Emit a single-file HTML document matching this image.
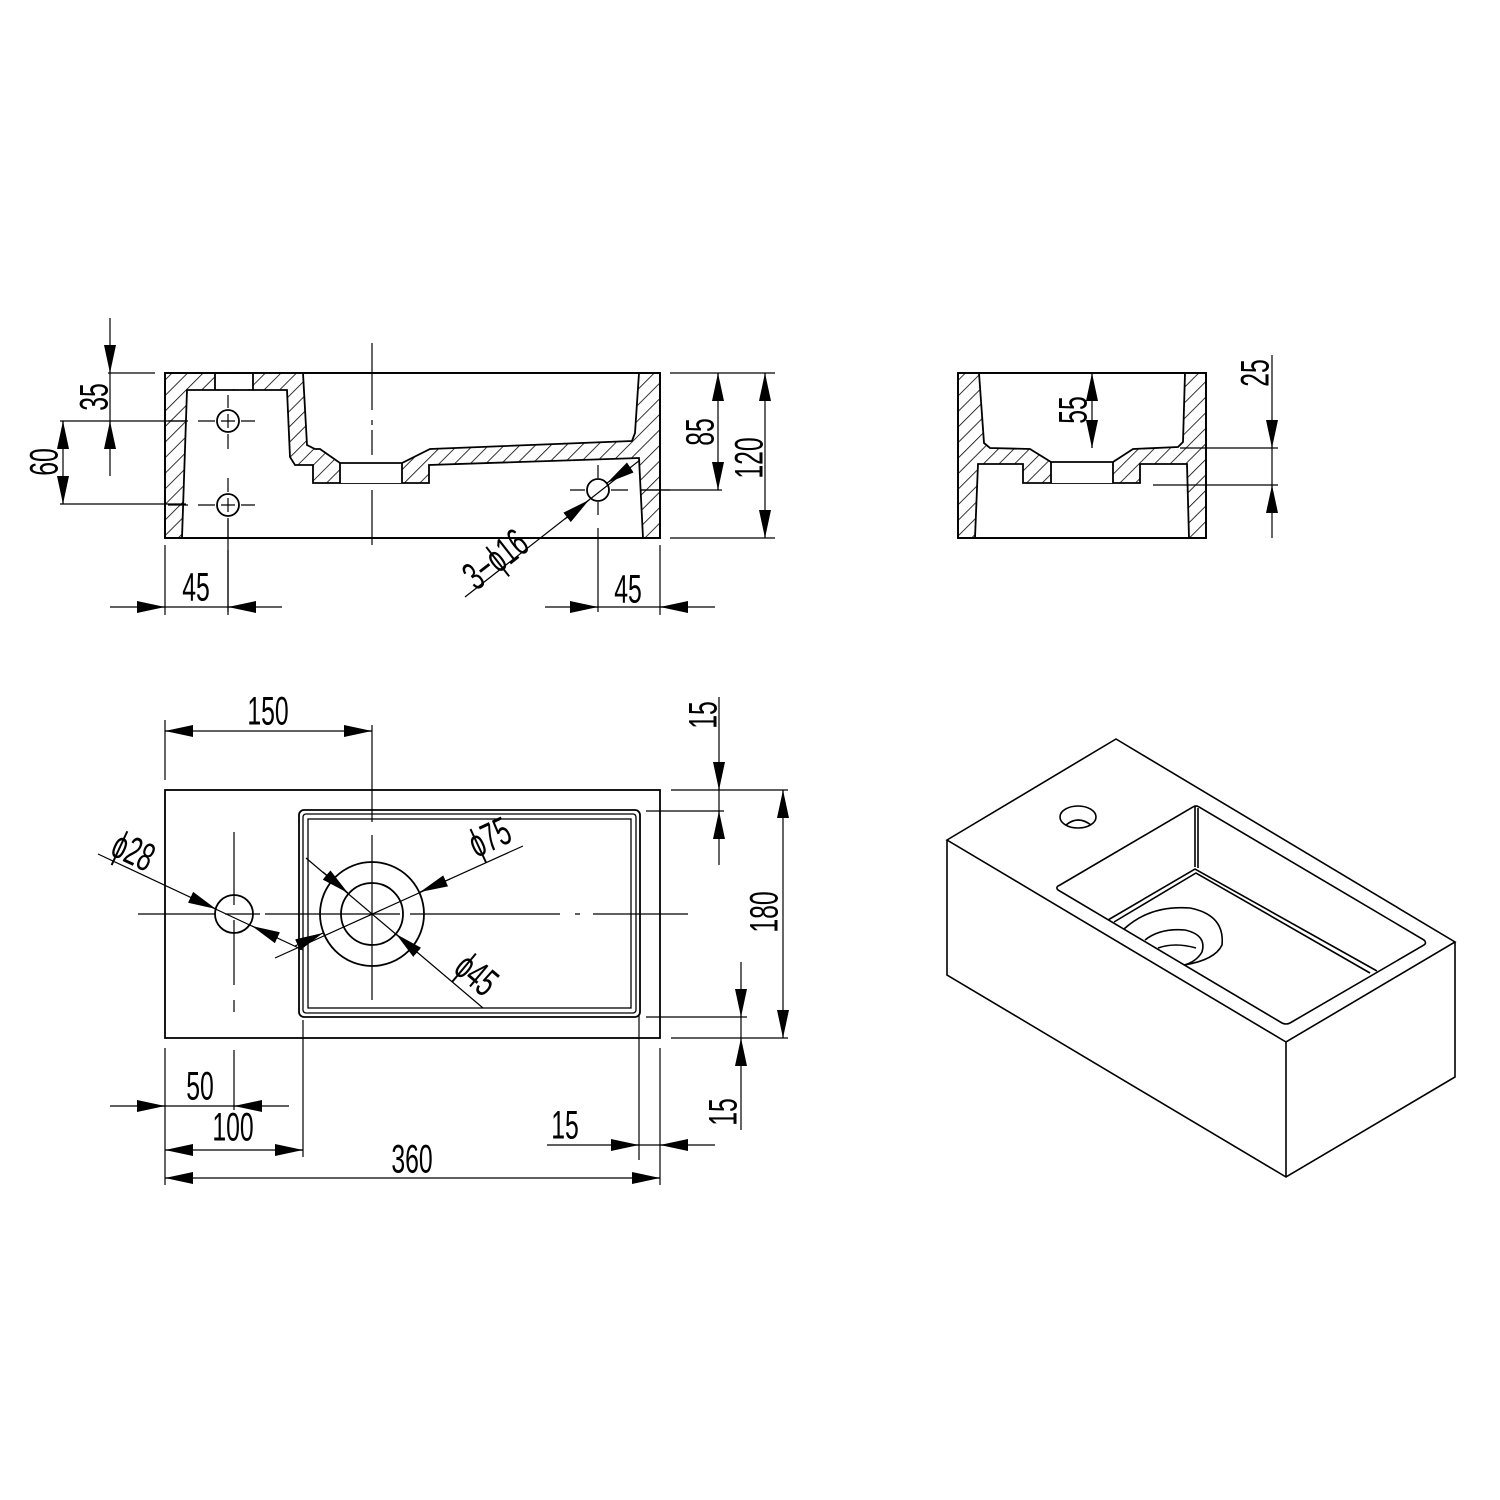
<!DOCTYPE html>
<html><head><meta charset="utf-8"><style>
html,body{margin:0;padding:0;background:#fff}
svg{display:block}
.t{font-family:"Liberation Sans",sans-serif;font-size:40px;fill:#000}
</style></head><body>
<svg width="1500" height="1500" viewBox="0 0 1500 1500" xmlns="http://www.w3.org/2000/svg">
<defs>
<pattern id="h" patternUnits="userSpaceOnUse" width="11" height="11" patternTransform="rotate(45)">
<rect width="11" height="11" fill="#fff"/><line x1="0" y1="0" x2="0" y2="11" stroke="#000" stroke-width="1.6"/>
</pattern>
<marker id="a" markerUnits="userSpaceOnUse" markerWidth="28" markerHeight="12" refX="28" refY="6" orient="auto"><path d="M0,0 L28,6 L0,12 Z" fill="#000"/></marker>
</defs>
<g fill="none" stroke="#000" stroke-width="1.8">
<!-- FRONT SECTION -->
<rect x="165" y="373" width="495" height="165" fill="url(#h)"/>
<polygon fill="#fff" points="303,373 307,445 315,449 320,449 340,463 402,463 430,449 632,441 635,433 639,373"/>
<polygon fill="#fff" points="187,390 287,390 290,457 295,465 313,465 313,483 429,483 429,465 639,458 643,538 182,538"/>
<rect x="340" y="460" width="62" height="23" fill="#fff" stroke="none"/>
<line x1="340" y1="463" x2="340" y2="483"/><line x1="402" y1="463" x2="402" y2="483"/><line x1="340" y1="463" x2="402" y2="463"/>
<rect x="215" y="374" width="38" height="15" fill="#fff" stroke="none"/>
<line x1="215" y1="373" x2="215" y2="390"/><line x1="253" y1="373" x2="253" y2="390"/>
<rect x="165" y="373" width="495" height="165"/>
<circle cx="228" cy="421" r="11"/><circle cx="228" cy="505" r="11"/><circle cx="598" cy="490" r="11"/>
</g>
<g stroke="#000" stroke-width="1.2" fill="none">
<path d="M372,343V410M372,420V425M372,430V455M372,490V545" />
<path d="M168,421H188M198,421H215M221,421H235M241,421H255M228,395V408M228,414V428M228,434V449"/>
<path d="M168,505H188M198,505H215M221,505H235M241,505H255M228,478V492M228,498V512M228,518V538M228,550V612"/>
<path d="M570,490H585M611,490H628M640,490H670M598,465V478M598,502V515M598,528V612"/>
<path d="M110,318V476M108,373H155M60,421H186M60,504H186M63,421V504"/>
<path d="M110,345V373" marker-end="url(#a)"/>
<path d="M110,449V421" marker-end="url(#a)"/>
<path d="M63,449V421" marker-end="url(#a)"/>
<path d="M63,476V504" marker-end="url(#a)"/>
<path d="M110,607H282M165,545V615M228,520V615"/>
<path d="M137,607H165" marker-end="url(#a)"/>
<path d="M256,607H228" marker-end="url(#a)"/>
<path d="M545,607H715M660,545V615"/>
<path d="M570,607H598" marker-end="url(#a)"/>
<path d="M688,607H660" marker-end="url(#a)"/>
<path d="M465,597L640,460"/>
<path d="M565,519L589,500" marker-end="url(#a)"/>
<path d="M631,467L607,483" marker-end="url(#a)"/>
<path d="M670,373H775M640,490H722M670,538H775M718,373V490M765,373V538"/>
<path d="M718,401V373" marker-end="url(#a)"/>
<path d="M718,462V490" marker-end="url(#a)"/>
<path d="M765,401V373" marker-end="url(#a)"/>
<path d="M765,510V538" marker-end="url(#a)"/>
</g>
<!-- SIDE SECTION -->
<g fill="none" stroke="#000" stroke-width="1.8">
<rect x="958" y="373" width="248" height="165" fill="url(#h)"/>
<polygon fill="#fff" points="979,373 984,443 990,448 1030,449 1051,462 1113,462 1133,449 1178,447 1183,442 1185,373"/>
<polygon fill="#fff" points="978,464 1023,464 1023,483 1140,483 1140,464 1187,464 1189,538 975,538"/>
<rect x="1051" y="458" width="62" height="25" fill="#fff" stroke="none"/>
<path d="M1051,462V483M1113,462V483M1051,462H1113"/>
<rect x="958" y="373" width="248" height="165"/>
</g>
<g stroke="#000" stroke-width="1.2" fill="none">
<path d="M1180,448H1278M1153,485H1278M1272,355V538M1092,373V448"/>
<path d="M1272,420V448" marker-end="url(#a)"/>
<path d="M1272,513V485" marker-end="url(#a)"/>
<path d="M1092,401V373" marker-end="url(#a)"/>
<path d="M1092,420V448" marker-end="url(#a)"/>
</g>
<!-- PLAN -->
<g fill="none" stroke="#000" stroke-width="1.8">
<rect x="165" y="790" width="495" height="248"/>
<rect x="299" y="810" width="341" height="207" rx="5"/>
<rect x="303" y="814" width="333" height="199" rx="3" stroke-width="1.3"/>
<rect x="308" y="819" width="323" height="189" stroke-width="1.3"/>
<circle cx="234" cy="914" r="19"/>
<circle cx="372" cy="914" r="52"/><circle cx="372" cy="914" r="31"/>
</g>
<g stroke="#000" stroke-width="1.2" fill="none">
<path d="M138,914H215M225,914H260M265,914H285M265,914H400M410,914H560M575,914H580M593,914H688"/>
<path d="M234,832V905M234,920V985M234,1000V1012M234,1050V1110"/>
<path d="M372,725V822M372,835V1000"/>
<path d="M165,720V780M165,731H372"/>
<path d="M193,731H165" marker-end="url(#a)"/>
<path d="M344,731H372" marker-end="url(#a)"/>
<path d="M98,854L303,950M275,958L523,846M306,858L483,1008"/>
<path d="M190,897L216,909" marker-end="url(#a)"/>
<path d="M278,938L252,926" marker-end="url(#a)"/>
<path d="M295,946L323,933" marker-end="url(#a)"/>
<path d="M450,879L420,892" marker-end="url(#a)"/>
<path d="M323,872L348,893" marker-end="url(#a)"/>
<path d="M418,953L396,934" marker-end="url(#a)"/>
<path d="M671,790H788M646,811H724M646,1017H747M671,1038H788M719,697V865M783,790V1038M741,962V1130"/>
<path d="M719,762V790" marker-end="url(#a)"/>
<path d="M719,839V811" marker-end="url(#a)"/>
<path d="M783,818V790" marker-end="url(#a)"/>
<path d="M783,1010V1038" marker-end="url(#a)"/>
<path d="M741,989V1017" marker-end="url(#a)"/>
<path d="M741,1066V1038" marker-end="url(#a)"/>
<path d="M165,1048V1185M303,1020V1157M639,1015V1160M660,1048V1185"/>
<path d="M110,1106H289M165,1150H303M165,1178H660M547,1145H715"/>
<path d="M137,1106H165" marker-end="url(#a)"/>
<path d="M262,1106H234" marker-end="url(#a)"/>
<path d="M193,1150H165" marker-end="url(#a)"/>
<path d="M275,1150H303" marker-end="url(#a)"/>
<path d="M193,1178H165" marker-end="url(#a)"/>
<path d="M632,1178H660" marker-end="url(#a)"/>
<path d="M611,1145H639" marker-end="url(#a)"/>
<path d="M688,1145H660" marker-end="url(#a)"/>
</g>
<!-- ISOMETRIC -->
<g fill="none" stroke="#000" stroke-width="1.6">
<path d="M947,840L1116,739L1455,942L1286,1042Z"/>
<path d="M947,840V975L1286,1177L1455,1077V942M1286,1042V1177"/>
<path d="M1060,885L1193,807Q1196,805 1199,807L1424,940Q1427,943 1424,945L1290,1023Q1286,1025 1282,1023L1058,890Q1055,887 1060,885Z"/>
<path d="M1195,807V867M1198,808V868"/>
<path d="M1108,920L1195,869L1377,971M1114,922L1196,873L1370,973"/>
<ellipse cx="1078" cy="817" rx="18" ry="11"/>
<path d="M1066,825Q1078,815 1091,825"/>
<path d="M1124,929Q1150,905 1190,908Q1225,915 1222,945Q1215,960 1184,965"/>
<path d="M1145,940Q1160,928 1185,930Q1207,935 1202,952Q1196,962 1184,965"/>
<path d="M1158,948Q1175,942 1196,948"/>
</g>
<!-- TEXT -->
<g class="t" text-anchor="middle" dominant-baseline="central">
<text transform="translate(95,397) rotate(-90) scale(0.62,1)">35</text>
<text transform="translate(45,462) rotate(-90) scale(0.62,1)">60</text>
<text transform="translate(196,588) scale(0.62,1)">45</text>
<text transform="translate(628,590) scale(0.62,1)">45</text>
<text transform="translate(496,560) rotate(-38) scale(0.62,1)">3−ϕ16</text>
<text transform="translate(701,432) rotate(-90) scale(0.62,1)">85</text>
<text transform="translate(750,458) rotate(-90) scale(0.62,1)">120</text>
<text transform="translate(1256,373) rotate(-90) scale(0.62,1)">25</text>
<text transform="translate(1074,410) rotate(-90) scale(0.62,1)">55</text>
<text transform="translate(268,712) scale(0.62,1)">150</text>
<text transform="translate(704,715) rotate(-90) scale(0.62,1)">15</text>
<text transform="translate(765,912) rotate(-90) scale(0.62,1)">180</text>
<text transform="translate(724,1112) rotate(-90) scale(0.62,1)">15</text>
<text transform="translate(200,1087) scale(0.62,1)">50</text>
<text transform="translate(233,1128) scale(0.62,1)">100</text>
<text transform="translate(412,1160) scale(0.62,1)">360</text>
<text transform="translate(565,1126) scale(0.62,1)">15</text>
<text transform="translate(133,852) rotate(25) scale(0.62,1)">ϕ28</text>
<text transform="translate(490,838) rotate(-25) scale(0.62,1)">ϕ75</text>
<text transform="translate(476,975) rotate(40) scale(0.62,1)">ϕ45</text>
</g>
</svg>
</body></html>
